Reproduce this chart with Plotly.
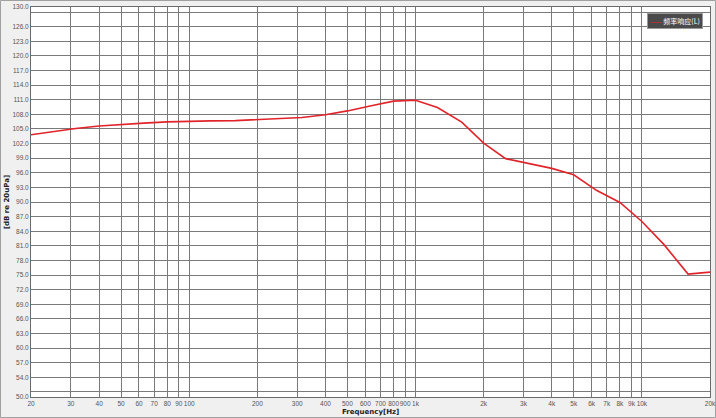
import plotly.graph_objects as go

# 1/3-octave frequency response
freq = [20, 25, 31.5, 40, 50, 63, 80, 100, 125, 160, 200, 250, 315, 400, 500, 630,
        800, 1000, 1250, 1600, 2000, 2500, 3150, 4000, 5000, 6300, 8000, 10000,
        12500, 16000, 20000]
spl = [103.8, 104.5, 105.1, 105.6, 105.95, 106.2, 106.45, 106.6, 106.65, 106.7, 106.9,
       107.1, 107.35, 107.9, 108.7, 109.7, 110.7, 110.9, 109.4, 106.4, 102.1, 98.9,
       97.9, 96.9, 95.6, 92.4, 89.9, 86.0, 81.3, 75.2, 75.6]
series_name = "频率响应(L)"

x_ticks = [20, 30, 40, 50, 60, 70, 80, 90, 100, 200, 300, 400, 500, 600, 700, 800, 900,
           1000, 2000, 3000, 4000, 5000, 6000, 7000, 8000, 9000, 10000, 20000]
x_labels = ["20", "30", "40", "50", "60", "70", "80", "90", "100", "200", "300", "400",
            "500", "600", "700", "800", "900", "1k", "2k", "3k", "4k", "5k", "6k", "7k",
            "8k", "9k", "10k", "20k"]
y_ticks = [50] + list(range(54, 127, 3)) + [130]
y_labels = ["%.1f" % v for v in y_ticks]
y_grid_extra = [51, 129]

grid = "#7a7a7a"
tickfont = dict(family="Liberation Sans", size=6.5, color="#555555")
titlefont = dict(family="DejaVu Sans", size=7, color="#222222")

fig = go.Figure()
fig.add_trace(go.Scatter(x=freq, y=spl, mode="lines", name=series_name,
                         line=dict(color="#e0242a", width=1.6), showlegend=False))

# legend drawn as a small dark label box
fig.add_annotation(
    xref="paper", yref="paper", x=0.99, y=0.985, xanchor="right", yanchor="top",
    text="<span style='color:#e0242a'>——</span> " + series_name,
    showarrow=False, font=dict(family="Noto Sans CJK SC", size=7, color="#ffffff"),
    bgcolor="#4a4a4a", bordercolor="#9a9a9a", borderwidth=1, borderpad=2)

# axis titles
fig.add_annotation(xref="paper", yref="paper", x=0.5, y=-0.024, xanchor="center", yanchor="top",
                   text="<b>Frequency[Hz]</b>", showarrow=False, font=titlefont)
fig.add_annotation(xref="paper", yref="paper", x=-0.044, y=0.5, xanchor="left", yanchor="middle",
                   text="<b>[dB re 20uPa]</b>", textangle=-90, showarrow=False, font=titlefont)

# outer frame of the window
fig.add_shape(type="rect", xref="paper", yref="paper",
              x0=-30.5 / 679, x1=1 + 5.5 / 679, y0=-20.5 / 390, y1=1 + 6.5 / 390,
              line=dict(color="#a0a0a0", width=1), layer="below")

fig.update_xaxes(
    type="log", range=[1.30103, 4.30103], automargin=False,
    tickmode="array", tickvals=x_ticks, ticktext=x_labels, tickfont=tickfont, tickangle=0,
    showgrid=True, gridcolor=grid, gridwidth=1,
    showline=True, linecolor="#6a6a6a", mirror=True, ticks="", zeroline=False)
fig.update_yaxes(
    range=[49.97, 130.03], automargin=False,
    tickmode="array", tickvals=y_ticks, ticktext=y_labels, tickfont=tickfont,
    showgrid=True, gridcolor=grid, gridwidth=1,
    minor=dict(tickmode="array", tickvals=y_grid_extra, showgrid=True, gridcolor=grid, gridwidth=1),
    showline=True, linecolor="#6a6a6a", mirror=True, ticks="", zeroline=False)

fig.update_layout(
    width=716, height=418,
    margin=dict(l=31, r=6, t=7, b=21),
    paper_bgcolor="#f0f0f0", plot_bgcolor="#ffffff",
    showlegend=False)

# drop the default page margin so the figure sits at the window's corner
fig.write_html("out.html", config={"displayModeBar": False},
               post_script="document.body.style.margin='0';")
